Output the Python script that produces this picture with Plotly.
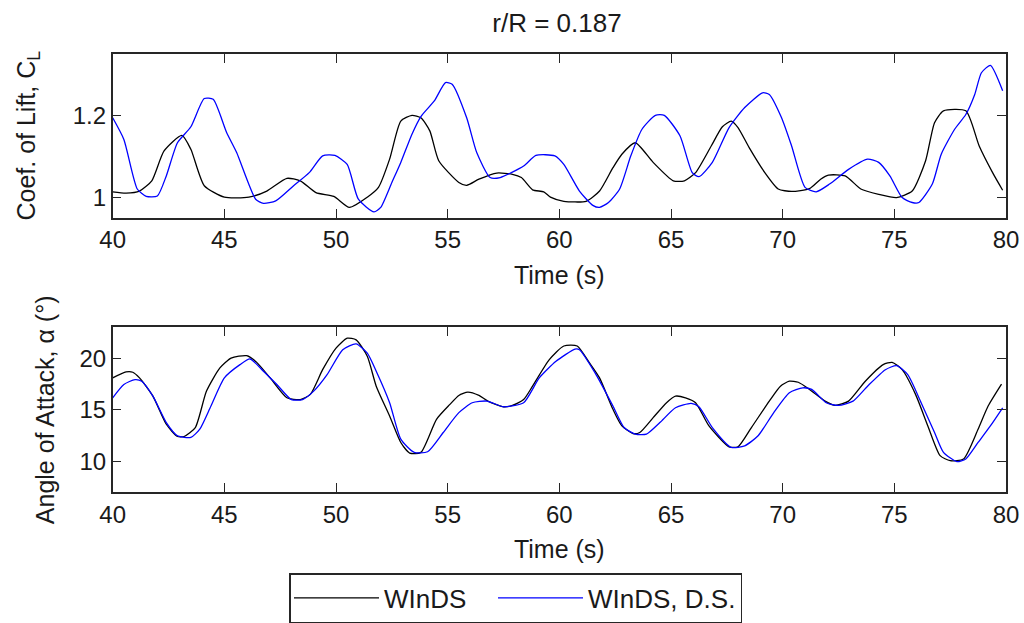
import plotly.graph_objects as go

# ---- data ----
t_cl_winds = [40, 40.6, 41.2, 41.75, 42.3, 43.1, 43.5, 44.1, 45, 46.1, 46.9, 47.8, 48.4, 49.1, 49.9,
              50.6, 51.4, 51.9, 52.4, 52.9, 53.4, 53.8, 54.2, 54.6, 55.5, 55.85, 56.4, 57.2, 57.9,
              58.3, 58.8, 59.3, 59.6, 60.2, 61.2, 61.8, 62.4, 62.8, 63.4, 64.2, 65.1, 65.6, 66.1,
              66.8, 67.3, 67.7, 68.0, 68.5, 69.2, 69.8, 70.4, 71.2, 71.7, 72.05, 72.8, 73.5, 74.3,
              75.1, 75.8, 76.4, 76.8, 77.2, 78.2, 78.8, 79.4, 79.85]
cl_winds = [1.013, 1.01, 1.015, 1.04, 1.113, 1.151, 1.117, 1.028, 1.0, 1.0, 1.015, 1.046, 1.04, 1.011,
            1.002, 0.975, 1.0, 1.024, 1.093, 1.186, 1.2, 1.194, 1.162, 1.089, 1.036, 1.029, 1.044,
            1.059, 1.056, 1.048, 1.018, 1.013, 1.0, 0.99, 0.99, 1.015, 1.072, 1.105, 1.133, 1.085,
            1.04, 1.04, 1.06, 1.125, 1.172, 1.186, 1.17, 1.121, 1.06, 1.02, 1.014, 1.021, 1.044,
            1.054, 1.052, 1.02, 1.007, 0.999, 1.015, 1.089, 1.182, 1.211, 1.211, 1.125, 1.06, 1.017]

t_cl_ds = [40, 40.5, 41.1, 41.5, 42.0, 42.4, 42.9, 43.5, 44.1, 44.5, 45.1, 45.55, 46.4, 46.75, 47.3,
           48.1, 48.8, 49.4, 49.95, 50.5, 51.0, 51.7, 52.0, 52.5, 52.9, 53.4, 53.8, 54.4, 54.9,
           55.2, 55.85, 56.3, 56.9, 57.35, 58.4, 58.95, 59.8, 60.2, 60.9, 61.5, 61.8, 62.2, 62.7,
           63.2, 63.7, 64.3, 64.7, 65.4, 65.95, 66.25, 66.85, 67.6, 68.3, 69.1, 69.4, 69.95, 70.4,
           71.0, 71.5, 72.1, 72.95, 73.8, 74.3, 74.8, 75.35, 75.8, 76.1, 76.7, 77.1, 77.7, 78.2,
           78.6, 78.9, 79.3, 79.85]
cl_ds = [1.194, 1.141, 1.02, 1.002, 1.003, 1.052, 1.133, 1.172, 1.241, 1.239, 1.158, 1.109, 0.995,
         0.985, 0.991, 1.028, 1.06, 1.101, 1.102, 1.08, 0.995, 0.964, 0.975, 1.036, 1.085, 1.154,
         1.197, 1.235, 1.28, 1.276, 1.194, 1.109, 1.048, 1.048, 1.076, 1.102, 1.101, 1.08, 1.015,
         0.98, 0.975, 0.987, 1.02, 1.101, 1.166, 1.2, 1.2, 1.15, 1.06, 1.05, 1.085, 1.17, 1.219,
         1.255, 1.251, 1.194, 1.125, 1.024, 1.013, 1.032, 1.068, 1.093, 1.085, 1.052, 0.999, 0.987,
         0.987, 1.032, 1.105, 1.166, 1.202, 1.251, 1.304, 1.322, 1.26]

t_aoa_winds = [40, 40.6, 40.9, 41.2, 41.8, 42.4, 42.9, 43.2, 43.7, 44.2, 44.8, 45.3, 46.0, 46.45,
               47.05, 47.8, 48.4, 48.85, 49.4, 50.0, 50.5, 50.9, 51.4, 51.8, 52.4, 52.9, 53.3,
               53.8, 54.5, 55.1, 55.5, 55.9, 56.4, 56.8, 57.5, 57.9, 58.4, 58.8, 59.55, 60.2,
               60.8, 61.35, 61.8, 62.4, 62.8, 63.3, 63.6, 64.2, 64.8, 65.2, 65.65, 66.1, 66.7,
               67.6, 68.0, 68.6, 69.4, 69.9, 70.3, 70.7, 71.2, 71.9, 72.35, 72.95, 73.7, 74.5,
               74.9, 75.35, 75.95, 76.5, 77.05, 77.5, 78.1, 78.75, 79.2, 79.8]
aoa_winds = [18.1, 18.68, 18.65, 18.1, 16.33, 13.6, 12.41, 12.41, 13.28, 16.82, 19.07, 20.03, 20.26,
             19.61, 18.1, 16.17, 16.0, 16.5, 18.9, 21.0, 21.96, 21.8, 20.2, 17.3, 14.4, 11.83, 10.8,
             10.87, 14.08, 15.53, 16.4, 16.72, 16.4, 15.85, 15.3, 15.43, 16.0, 17.3, 19.87, 21.2,
             21.2, 19.55, 18.1, 15.05, 13.44, 12.7, 12.8, 14.24, 15.69, 16.33, 16.17, 15.69, 13.44,
             11.41, 11.41, 13.28, 15.85, 17.3, 17.78, 17.68, 16.98, 15.85, 15.43, 15.85, 17.78,
             19.39, 19.61, 18.9, 16.5, 13.44, 10.55, 10.06, 10.23, 13.12, 15.37, 17.5]

t_aoa_ds = [40, 40.5, 41.0, 41.3, 41.8, 42.4, 42.9, 43.5, 43.9, 44.4, 45.0, 45.7, 46.15, 46.75, 47.35,
            48.0, 48.5, 49.0, 49.6, 50.3, 50.9, 51.4, 51.8, 52.4, 52.9, 53.5, 54.1, 54.8, 55.5,
            56.1, 56.75, 57.5, 58.4, 59.1, 59.85, 60.7, 60.9, 61.6, 62.4, 62.9, 63.4, 63.9, 64.5,
            65.2, 65.9, 66.25, 66.85, 67.7, 68.3, 68.9, 69.6, 70.3, 70.9, 71.3, 71.95, 72.5, 73.15,
            73.8, 74.6, 75.1, 75.6, 76.2, 76.8, 77.2, 77.8, 78.2, 78.75, 79.3, 79.85]
aoa_ds = [16.17, 17.46, 17.94, 17.78, 16.33, 13.76, 12.48, 12.32, 13.12, 15.37, 18.1, 19.39, 19.94,
          18.75, 17.46, 16.0, 16.0, 16.82, 18.42, 20.84, 21.41, 20.5, 18.75, 15.69, 12.15, 10.87,
          10.93, 12.8, 14.73, 15.69, 15.85, 15.3, 15.69, 18.1, 19.71, 20.9, 20.84, 18.59, 15.37,
          13.28, 12.64, 12.64, 13.76, 15.2, 15.63, 15.3, 13.28, 11.35, 11.51, 12.48, 14.73, 16.66,
          17.14, 16.98, 15.69, 15.43, 15.85, 17.3, 18.9, 19.29, 18.42, 15.69, 12.8, 10.87, 9.97,
          10.23, 11.83, 13.44, 15.2]

x_ticks = [40, 45, 50, 55, 60, 65, 70, 75, 80]
cl_ticks = [1, 1.2]
cl_tick_text = ["1", "1.2"]
aoa_ticks = [10, 15, 20]

FONT = "Liberation Sans, Arial, sans-serif"
AX = "#262626"
TXT = "#1a1a1a"
W, H = 1024, 623

line_kw = dict(shape="spline", smoothing=0.6, width=1.3)

fig = go.Figure()
fig.add_trace(go.Scatter(x=t_cl_winds, y=cl_winds, mode="lines", name="WInDS\u00a0\u00a0\u00a0",
                         line=dict(color="#000000", **line_kw), xaxis="x", yaxis="y",
                         legendgroup="a"))
fig.add_trace(go.Scatter(x=t_cl_ds, y=cl_ds, mode="lines", name="WInDS, D.S.",
                         line=dict(color="#0000ff", **line_kw), xaxis="x", yaxis="y",
                         legendgroup="b"))
fig.add_trace(go.Scatter(x=t_aoa_winds, y=aoa_winds, mode="lines", name="WInDS",
                         line=dict(color="#000000", **line_kw), xaxis="x2", yaxis="y2",
                         showlegend=False, legendgroup="a"))
fig.add_trace(go.Scatter(x=t_aoa_ds, y=aoa_ds, mode="lines", name="WInDS, D.S.",
                         line=dict(color="#0000ff", **line_kw), xaxis="x2", yaxis="y2",
                         showlegend=False, legendgroup="b"))

xdom = [112.7 / W, 1006 / W]
common = dict(showline=True, linecolor=AX, linewidth=1.5, mirror="allticks", ticks="inside",
              ticklen=9, tickwidth=1.3, tickcolor=AX, showgrid=False, zeroline=False,
              automargin=False,
              tickfont=dict(family=FONT, size=24, color=TXT))
title_font = dict(family=FONT, size=25, color=TXT)

fig.update_layout(
    template="none",
    width=W, height=H,
    margin=dict(l=0, r=0, t=0, b=0),
    paper_bgcolor="white", plot_bgcolor="white",
    font=dict(family=FONT, size=24, color=TXT),
    title=dict(text="r/R = 0.187", x=557 / W, xanchor="center", y=1 - 23 / H, yanchor="middle",
               font=dict(family=FONT, size=26, color=TXT)),
    xaxis=dict(domain=xdom, range=[40, 80], tickvals=x_ticks, anchor="y",
               title=dict(text="Time (s)", standoff=14, font=title_font), **common),
    yaxis=dict(domain=[1 - 218 / H, 1 - 54 / H], range=[0.95, 1.35], tickvals=cl_ticks,
               ticktext=cl_tick_text, anchor="x",
               title=dict(text="Coef. of Lift, C<sub>L</sub>", standoff=30, font=title_font),
               **common),
    xaxis2=dict(domain=xdom, range=[40, 80], tickvals=x_ticks, anchor="y2",
                title=dict(text="Time (s)", standoff=14, font=title_font), **common),
    yaxis2=dict(domain=[1 - 493 / H, 1 - 328 / H], range=[7, 23], tickvals=aoa_ticks, anchor="x2",
                title=dict(text="Angle of Attack, α (°)", standoff=18, font=title_font),
                **common),
    legend=dict(orientation="h", x=515.5 / W, xanchor="center", y=1 - 574 / H, yanchor="top",
                bordercolor=AX, borderwidth=1.5, bgcolor="white",
                font=dict(family=FONT, size=26, color=TXT), itemwidth=85),
    showlegend=True,
)

fig.write_html("out.html")
